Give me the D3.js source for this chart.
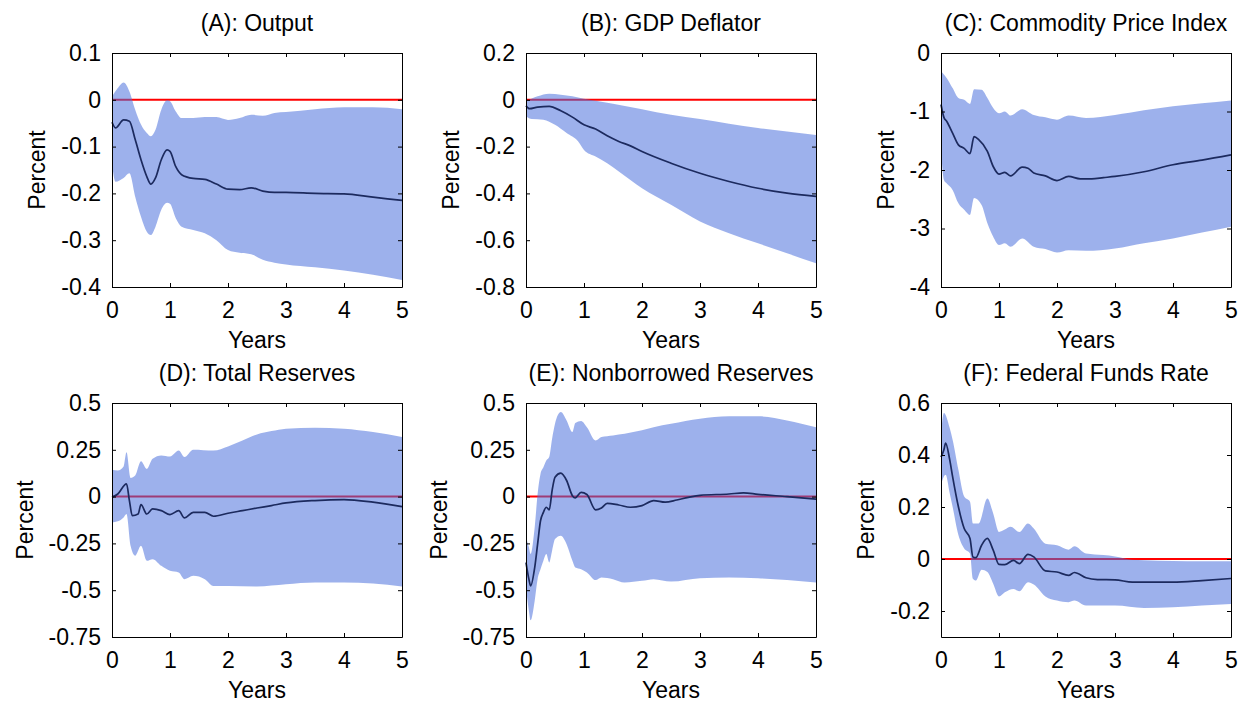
<!DOCTYPE html>
<html>
<head>
<meta charset="utf-8">
<script src="https://cdn.jsdelivr.net/npm/d3@7"></script>
<style>
    body { margin: 0; background: #fff; }
    svg text { font-family: "Liberation Sans", Arial, sans-serif; fill: #000; }
</style>
</head>
<body>
<div id="chart"></div>
<script>
// horizon in years, shared by all panels
const years = [0, 1, 2, 3, 4, 5];

const titles = [
    '(A): Output', '(B): GDP Deflator', '(C): Commodity Price Index',
    '(D): Total Reserves', '(E): Nonborrowed Reserves', '(F): Federal Funds Rate'
];

const outputTicks = [-0.4, -0.3, -0.2, -0.1, 0, 0.1];
const deflatorTicks = [-0.8, -0.6, -0.4, -0.2, 0, 0.2];
const commodityTicks = [-4, -3, -2, -1, 0];
const reservesTicks = [-0.75, -0.5, -0.25, 0, 0.25, 0.5];
const fundsTicks = [-0.2, 0, 0.2, 0.4, 0.6];

// [year, percent]
const outputMean = [[0,-0.048],[0.06,-0.06],[0.2,-0.043],[0.3,-0.046],[0.4,-0.085],[0.5,-0.128],[0.6,-0.164],[0.67,-0.18],[0.75,-0.167],[0.85,-0.128],[0.95,-0.107],[1.0,-0.11],[1.1,-0.143],[1.2,-0.16],[1.4,-0.168],[1.6,-0.17],[1.8,-0.18],[2.0,-0.191],[2.2,-0.192],[2.4,-0.188],[2.6,-0.195],[2.8,-0.198],[3.0,-0.198],[3.5,-0.2],[4.0,-0.201],[4.5,-0.208],[5.0,-0.215]];
const outputUpper = [[0,0.007],[0.1,0.025],[0.2,0.037],[0.3,0.018],[0.4,-0.021],[0.5,-0.053],[0.6,-0.071],[0.67,-0.078],[0.75,-0.064],[0.85,-0.021],[0.95,-0.001],[1.0,-0.003],[1.1,-0.025],[1.2,-0.039],[1.4,-0.039],[1.6,-0.037],[1.8,-0.037],[2.0,-0.043],[2.2,-0.039],[2.4,-0.032],[2.6,-0.034],[2.8,-0.028],[3.0,-0.026],[3.5,-0.02],[4.0,-0.016],[4.5,-0.016],[5.0,-0.02]];
const outputLower = [[0,-0.135],[0.06,-0.175],[0.2,-0.167],[0.3,-0.157],[0.4,-0.207],[0.5,-0.25],[0.6,-0.282],[0.67,-0.289],[0.75,-0.271],[0.85,-0.235],[0.95,-0.22],[1.0,-0.222],[1.1,-0.253],[1.2,-0.271],[1.4,-0.278],[1.6,-0.285],[1.8,-0.3],[2.0,-0.321],[2.2,-0.327],[2.4,-0.33],[2.6,-0.342],[2.8,-0.348],[3.0,-0.352],[3.5,-0.358],[4.0,-0.365],[4.5,-0.374],[5.0,-0.385]];

const deflatorMean = [[0,-0.025],[0.06,-0.038],[0.2,-0.031],[0.4,-0.028],[0.6,-0.047],[0.8,-0.074],[1.0,-0.107],[1.2,-0.125],[1.4,-0.154],[1.6,-0.178],[1.8,-0.197],[2.0,-0.221],[2.5,-0.271],[3.0,-0.314],[3.5,-0.349],[4.0,-0.378],[4.5,-0.399],[5.0,-0.413]];
const deflatorUpper = [[0,-0.007],[0.2,0.015],[0.4,0.026],[0.6,0.022],[0.8,0.015],[1.0,0.004],[1.2,-0.004],[1.5,-0.017],[2.0,-0.04],[2.5,-0.064],[3.0,-0.082],[3.5,-0.102],[4.0,-0.121],[4.5,-0.135],[5.0,-0.15]];
const deflatorLower = [[0,-0.071],[0.1,-0.082],[0.3,-0.085],[0.5,-0.107],[0.7,-0.142],[0.9,-0.178],[1.0,-0.214],[1.2,-0.242],[1.4,-0.271],[1.6,-0.306],[2.0,-0.378],[2.5,-0.449],[3.0,-0.52],[3.5,-0.57],[4.0,-0.613],[4.5,-0.656],[5.0,-0.699]];

const commodityMean = [[0,-0.88],[0.05,-1.1],[0.1,-1.17],[0.2,-1.37],[0.3,-1.57],[0.4,-1.63],[0.5,-1.72],[0.57,-1.43],[0.65,-1.48],[0.8,-1.68],[0.9,-1.94],[1.0,-2.07],[1.1,-2.04],[1.2,-2.1],[1.4,-1.95],[1.5,-1.97],[1.6,-2.05],[1.8,-2.1],[2.0,-2.18],[2.2,-2.11],[2.4,-2.15],[2.6,-2.15],[2.8,-2.13],[3.0,-2.11],[3.5,-2.03],[4.0,-1.91],[4.5,-1.83],[5.0,-1.74]];
const commodityUpper = [[0,-0.31],[0.1,-0.43],[0.2,-0.6],[0.3,-0.77],[0.4,-0.8],[0.5,-0.87],[0.57,-0.62],[0.7,-0.63],[0.8,-0.77],[0.9,-0.94],[1.0,-1.03],[1.1,-1.0],[1.2,-1.07],[1.4,-0.96],[1.6,-1.06],[1.8,-1.1],[2.0,-1.14],[2.2,-1.07],[2.5,-1.11],[3.0,-1.06],[3.5,-0.98],[4.0,-0.91],[4.5,-0.86],[5.0,-0.81]];
const commodityLower = [[0,-1.65],[0.05,-2.17],[0.1,-2.23],[0.2,-2.34],[0.3,-2.57],[0.4,-2.68],[0.5,-2.77],[0.57,-2.48],[0.7,-2.6],[0.8,-2.91],[0.9,-3.14],[1.0,-3.28],[1.1,-3.25],[1.2,-3.31],[1.4,-3.17],[1.6,-3.31],[1.8,-3.35],[2.0,-3.41],[2.2,-3.37],[2.5,-3.38],[3.0,-3.34],[3.5,-3.25],[4.0,-3.17],[4.5,-3.07],[5.0,-2.97]];

const totalResMean = [[0,-0.004],[0.1,0.014],[0.25,0.068],[0.3,-0.021],[0.35,-0.102],[0.45,-0.093],[0.5,-0.043],[0.6,-0.093],[0.7,-0.066],[0.85,-0.075],[1.0,-0.096],[1.15,-0.075],[1.25,-0.114],[1.4,-0.084],[1.6,-0.084],[1.75,-0.105],[2.0,-0.089],[2.25,-0.075],[2.5,-0.061],[2.75,-0.048],[3.0,-0.034],[3.5,-0.021],[4.0,-0.016],[4.5,-0.03],[5.0,-0.054]];
const totalResUpper = [[0,0.143],[0.1,0.139],[0.2,0.161],[0.25,0.237],[0.32,0.1],[0.4,0.113],[0.5,0.189],[0.6,0.148],[0.7,0.202],[0.85,0.22],[1.0,0.214],[1.15,0.246],[1.25,0.211],[1.4,0.25],[1.75,0.246],[2.0,0.268],[2.25,0.3],[2.5,0.332],[2.75,0.35],[3.0,0.363],[3.5,0.368],[4.0,0.363],[4.5,0.345],[5.0,0.318]];
const totalResLower = [[0,-0.138],[0.1,-0.132],[0.2,-0.111],[0.25,-0.093],[0.32,-0.263],[0.4,-0.316],[0.5,-0.263],[0.6,-0.343],[0.7,-0.334],[0.85,-0.37],[1.0,-0.396],[1.15,-0.405],[1.25,-0.441],[1.4,-0.423],[1.6,-0.441],[1.75,-0.477],[2.0,-0.477],[2.5,-0.48],[3.0,-0.468],[3.5,-0.459],[4.0,-0.459],[4.5,-0.464],[5.0,-0.48]];

const nonborrowedMean = [[0,-0.352],[0.05,-0.441],[0.08,-0.477],[0.15,-0.379],[0.2,-0.254],[0.25,-0.129],[0.3,-0.084],[0.35,-0.057],[0.4,-0.071],[0.45,0.032],[0.5,0.104],[0.6,0.125],[0.7,0.086],[0.8,0.005],[0.85,-0.007],[0.95,0.023],[1.05,0.011],[1.2,-0.071],[1.3,-0.061],[1.4,-0.036],[1.6,-0.045],[1.8,-0.057],[2.0,-0.048],[2.2,-0.021],[2.4,-0.03],[2.6,-0.018],[2.8,-0.004],[3.0,0.007],[3.5,0.014],[3.75,0.02],[4.0,0.012],[4.5,0],[5.0,-0.013]];
const nonborrowedUpper = [[0,-0.218],[0.05,-0.271],[0.08,-0.307],[0.15,-0.164],[0.2,0.014],[0.25,0.121],[0.3,0.157],[0.35,0.193],[0.4,0.211],[0.45,0.309],[0.5,0.389],[0.6,0.452],[0.7,0.407],[0.8,0.345],[0.85,0.393],[0.95,0.404],[1.05,0.371],[1.2,0.3],[1.3,0.318],[1.5,0.327],[1.7,0.336],[2.0,0.354],[2.2,0.371],[2.5,0.389],[3.0,0.416],[3.5,0.429],[4.0,0.429],[4.5,0.407],[5.0,0.371]];
const nonborrowedLower = [[0,-0.486],[0.05,-0.611],[0.08,-0.661],[0.15,-0.557],[0.2,-0.441],[0.25,-0.388],[0.3,-0.343],[0.35,-0.307],[0.4,-0.352],[0.45,-0.289],[0.5,-0.227],[0.6,-0.209],[0.7,-0.254],[0.8,-0.343],[0.85,-0.379],[0.95,-0.388],[1.05,-0.405],[1.2,-0.446],[1.3,-0.432],[1.5,-0.441],[1.7,-0.459],[2.0,-0.45],[2.2,-0.441],[2.5,-0.454],[3.0,-0.436],[3.5,-0.432],[4.0,-0.436],[4.5,-0.446],[5.0,-0.459]];

const fundsMean = [[0,0.392],[0.05,0.42],[0.08,0.446],[0.15,0.382],[0.2,0.317],[0.3,0.201],[0.4,0.117],[0.5,0.079],[0.55,0.008],[0.6,0.005],[0.7,0.053],[0.8,0.079],[0.9,0.034],[1.0,-0.021],[1.1,-0.022],[1.25,-0.005],[1.35,-0.018],[1.5,0.018],[1.6,0.008],[1.8,-0.046],[2.0,-0.05],[2.2,-0.063],[2.3,-0.052],[2.5,-0.072],[2.7,-0.079],[3.0,-0.08],[3.3,-0.089],[3.5,-0.089],[4.0,-0.089],[4.5,-0.083],[5.0,-0.075]];
const fundsUpper = [[0,0.478],[0.05,0.562],[0.15,0.504],[0.2,0.459],[0.3,0.343],[0.4,0.24],[0.5,0.22],[0.55,0.137],[0.65,0.137],[0.8,0.233],[0.9,0.175],[1.0,0.104],[1.1,0.113],[1.2,0.124],[1.35,0.104],[1.5,0.137],[1.6,0.117],[1.8,0.059],[2.0,0.053],[2.2,0.036],[2.3,0.049],[2.5,0.021],[2.8,0.015],[3.0,0.01],[3.3,-0.003],[3.5,-0.005],[4.0,-0.008],[4.5,-0.009],[5.0,-0.009]];
const fundsLower = [[0,0.285],[0.05,0.317],[0.08,0.324],[0.15,0.253],[0.2,0.201],[0.3,0.092],[0.4,0.04],[0.5,0.021],[0.55,-0.076],[0.6,-0.083],[0.7,-0.041],[0.8,-0.05],[0.9,-0.095],[1.0,-0.144],[1.1,-0.128],[1.25,-0.115],[1.35,-0.124],[1.5,-0.089],[1.6,-0.098],[1.8,-0.144],[2.0,-0.16],[2.2,-0.166],[2.3,-0.16],[2.5,-0.179],[3.0,-0.179],[3.5,-0.188],[4.0,-0.186],[4.5,-0.179],[5.0,-0.173]];

const panels = [
    { title: titles[0], ticks: outputTicks, domain: [-0.4, 0.1], mean: outputMean, upper: outputUpper, lower: outputLower },
    { title: titles[1], ticks: deflatorTicks, domain: [-0.8, 0.2], mean: deflatorMean, upper: deflatorUpper, lower: deflatorLower },
    { title: titles[2], ticks: commodityTicks, domain: [-4, 0], mean: commodityMean, upper: commodityUpper, lower: commodityLower },
    { title: titles[3], ticks: reservesTicks, domain: [-0.75, 0.5], mean: totalResMean, upper: totalResUpper, lower: totalResLower },
    { title: titles[4], ticks: reservesTicks, domain: [-0.75, 0.5], mean: nonborrowedMean, upper: nonborrowedUpper, lower: nonborrowedLower },
    { title: titles[5], ticks: fundsTicks, domain: [-0.3, 0.6], mean: fundsMean, upper: fundsUpper, lower: fundsLower }
];

const W = 1242, H = 702;
const colLeft = [112, 526, 941];
const rowTop = [53, 403];
const pw = 290, ph = 234;

const svg = d3.select('#chart').append('svg')
    .attr('width', W)
    .attr('height', H);

const fmt = d => String(d);

panels.forEach((p, i) => {
    const g = svg.append('g')
        .attr('transform', `translate(${colLeft[i % 3]},${rowTop[Math.floor(i / 3)]})`);

    const x = d3.scaleLinear().domain([0, 5]).range([0, pw]);
    const y = d3.scaleLinear().domain(p.domain).range([ph, 0]);

    const line = d3.line()
        .x(d => x(d[0]))
        .y(d => y(d[1]))
        .curve(d3.curveMonotoneX);

    // zero line under the band (hidden by the frame when 0 is the top edge)
    if (y(0) > 1) {
        g.append('line')
            .attr('x1', x(0)).attr('x2', x(5))
            .attr('y1', y(0)).attr('y2', y(0))
            .attr('stroke', '#ff0000')
            .attr('stroke-width', 2);
    }

    const bandPath = line(p.upper) + 'L' + line(p.lower.slice().reverse()).slice(1) + 'Z';
    g.append('path')
        .attr('d', bandPath)
        .attr('fill', 'rgb(74,111,220)')
        .attr('fill-opacity', 0.54);

    g.append('path')
        .attr('d', line(p.mean))
        .attr('fill', 'none')
        .attr('stroke', '#1c2a5e')
        .attr('stroke-width', 1.7);

    // box with inward ticks on every side
    g.append('g').attr('transform', `translate(0,${ph})`)
        .call(d3.axisBottom(x).tickValues(years).tickFormat(fmt).tickSizeInner(-4).tickSizeOuter(0).tickPadding(15));
    g.append('g')
        .call(d3.axisTop(x).tickValues(years).tickSizeInner(-4).tickSizeOuter(0).tickFormat(''));
    const axL = g.append('g')
        .call(d3.axisLeft(y).tickValues(p.ticks).tickFormat(fmt).tickSizeInner(-4).tickSizeOuter(0).tickPadding(11));
    g.append('g').attr('transform', `translate(${pw},0)`)
        .call(d3.axisRight(y).tickValues(p.ticks).tickSizeInner(-4).tickSizeOuter(0).tickFormat(''));

    g.selectAll('.domain').attr('stroke', '#000').attr('stroke-width', 1);
    g.selectAll('.tick line').attr('stroke', '#000');
    g.selectAll('.tick text').attr('font-size', 23).attr('font-family', '"Liberation Sans", Arial, sans-serif');

    g.append('text')
        .attr('x', pw / 2)
        .attr('y', -22)
        .attr('text-anchor', 'middle')
        .attr('font-size', 23)
        .text(p.title);

    g.append('text')
        .attr('x', pw / 2)
        .attr('y', ph + 61)
        .attr('text-anchor', 'middle')
        .attr('font-size', 23)
        .text('Years');

    // ylabel sits just left of the widest tick label
    let minX = 0;
    axL.selectAll('.tick text').each(function () {
        const b = this.getBBox();
        minX = Math.min(minX, b.x);
    });
    g.append('text')
        .attr('transform', `translate(${minX - 16},${ph / 2}) rotate(-90)`)
        .attr('text-anchor', 'middle')
        .attr('font-size', 23)
        .text('Percent');
});
</script>
</body>
</html>
